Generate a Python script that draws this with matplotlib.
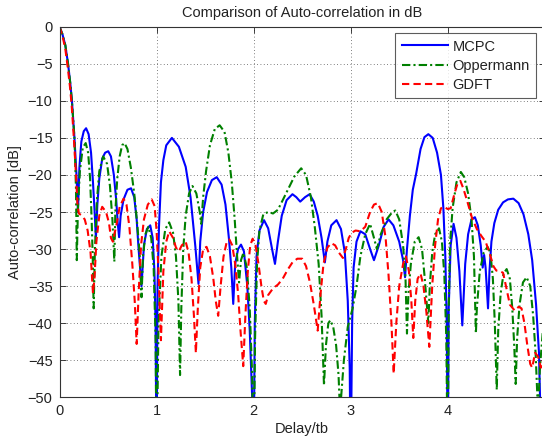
import matplotlib
matplotlib.use("Agg")
import matplotlib.pyplot as plt

plt.rcParams['font.family'] = ['Liberation Sans', 'DejaVu Sans']

# Normalised delay (in chip durations tb)
mcpc_x = [0.0, 0.03, 0.06, 0.088, 0.11, 0.128, 0.154, 0.175, 0.19,
          0.205, 0.225, 0.25, 0.274, 0.30, 0.325, 0.345, 0.362, 0.375,
          0.39, 0.41, 0.44, 0.47, 0.502, 0.53, 0.56, 0.585, 0.60, 0.614,
          0.63, 0.66, 0.70, 0.737, 0.77, 0.795, 0.815, 0.845,
          0.87, 0.90, 0.935, 0.96, 0.978, 0.99, 1.0,
          1.01, 1.025, 1.045, 1.07, 1.10, 1.158, 1.23, 1.30, 1.35, 1.40, 1.432,
          1.45, 1.48, 1.52, 1.57, 1.62, 1.67, 1.71, 1.745, 1.77, 1.79,
          1.81, 1.84, 1.87, 1.90, 1.935, 1.96, 1.985, 2.0,
          2.012, 2.03, 2.06, 2.107, 2.15, 2.19, 2.22,
          2.25, 2.29, 2.34, 2.40, 2.44, 2.48, 2.53, 2.577, 2.62, 2.66, 2.70, 2.734,
          2.76, 2.80, 2.854, 2.90, 2.94, 2.97, 2.99, 3.0,
          3.015, 3.03, 3.06, 3.10, 3.15, 3.20, 3.24, 3.29, 3.34, 3.39, 3.44, 3.50, 3.54, 3.56,
          3.58, 3.61, 3.64, 3.675, 3.72, 3.76, 3.80, 3.845, 3.89, 3.93, 3.955, 3.975, 3.99, 4.0,
          4.01, 4.03, 4.06, 4.09, 4.12, 4.15,
          4.18, 4.21, 4.245, 4.28, 4.31, 4.34, 4.36, 4.375, 4.39, 4.415,
          4.43, 4.45, 4.48, 4.52, 4.57, 4.62, 4.676, 4.73, 4.78, 4.83, 4.87, 4.91, 4.94, 4.96, 4.98]
mcpc_db = [0.0, -1.0, -2.5, -5.0, -7.5, -10.0, -15.0, -20.0, -25.0,
           -19.0, -15.5, -14.1, -13.7, -14.5, -17.0, -21.0, -25.0, -28.5,
           -24.0, -20.5, -17.8, -17.0, -16.8, -17.5, -20.0, -23.5, -26.5, -28.4,
           -25.5, -23.3, -22.0, -21.8, -23.0, -26.0, -30.0, -35.0,
           -29.5, -27.3, -26.8, -28.5, -33.0, -40.0, -60.0,
           -35.0, -27.0, -21.0, -18.0, -16.0, -15.0, -16.2, -18.9, -23.0, -29.7, -34.7,
           -29.0, -25.0, -22.3, -20.7, -20.3, -21.3, -24.0, -28.5, -32.5, -37.4,
           -32.0, -30.0, -29.4, -30.3, -35.0, -41.0, -50.0, -60.0,
           -40.0, -31.0, -27.5, -26.1, -27.2, -30.0, -32.0,
           -29.0, -25.5, -23.4, -22.6, -23.0, -23.6, -23.0, -22.6, -23.6, -25.5, -28.5, -31.8,
           -29.0, -26.8, -26.1, -27.3, -30.5, -37.0, -46.0, -60.0,
           -40.0, -32.5, -29.0, -27.6, -28.0, -30.0, -31.5, -29.5, -27.0, -26.0, -26.8, -29.0, -31.5, -33.8,
           -30.0, -25.5, -22.0, -19.8, -16.5, -14.9, -14.5, -15.0, -17.0, -20.0, -24.5, -31.0, -40.0, -60.0,
           -38.0, -29.5, -26.6, -28.5, -33.0, -40.3,
           -32.0, -28.0, -26.0, -25.7, -26.8, -29.5, -32.5, -30.8, -32.5, -38.0,
           -33.0, -29.0, -26.5, -24.7, -23.7, -23.3, -23.2, -23.8, -25.3, -28.0, -31.5, -37.5, -44.0, -55.0, -60.0]

opp_x = [0.0, 0.03, 0.06, 0.088, 0.11, 0.128, 0.154, 0.17, 0.178,
         0.19, 0.21, 0.24, 0.27, 0.295, 0.315, 0.33, 0.342, 0.352,
         0.365, 0.385, 0.41, 0.45, 0.49, 0.52, 0.545, 0.565,
         0.575, 0.595, 0.62, 0.645, 0.67, 0.70, 0.735, 0.77, 0.80, 0.825, 0.845,
         0.86, 0.885, 0.915, 0.945, 0.97, 0.99, 1.0,
         1.02, 1.05, 1.09, 1.13, 1.17, 1.20, 1.225, 1.242,
         1.255, 1.275, 1.30, 1.335, 1.37, 1.41, 1.445, 1.46, 1.48, 1.51, 1.55, 1.60, 1.65,
         1.70, 1.74, 1.775, 1.805, 1.83, 1.85,
         1.87, 1.895, 1.93, 1.96, 1.985, 2.0,
         2.015, 2.035, 2.06, 2.10, 2.15, 2.20, 2.25, 2.30, 2.36, 2.42, 2.49, 2.54, 2.59, 2.63, 2.67, 2.70, 2.725,
         2.745, 2.77, 2.79, 2.82, 2.85, 2.875, 2.89,
         2.93, 2.97, 3.02, 3.06, 3.10, 3.15, 3.20, 3.24, 3.27, 3.31, 3.37, 3.43, 3.46, 3.50, 3.54, 3.565, 3.58,
         3.595, 3.62, 3.66, 3.70, 3.735, 3.76, 3.785, 3.80, 3.815, 3.84, 3.87, 3.91, 3.94, 3.965, 3.985, 4.0,
         4.01, 4.025, 4.05, 4.09, 4.135, 4.17, 4.21, 4.245, 4.27, 4.29,
         4.30, 4.33, 4.37, 4.41, 4.44, 4.465, 4.485, 4.505,
         4.52, 4.545, 4.575, 4.607, 4.64, 4.665, 4.685, 4.70,
         4.715, 4.74, 4.775, 4.813, 4.85, 4.88, 4.905, 4.93, 4.95, 4.98]
opp_db = [0.0, -1.0, -2.5, -5.0, -7.5, -10.0, -15.0, -22.0, -31.5,
          -24.5, -19.5, -16.3, -15.7, -17.0, -20.5, -25.5, -31.0, -38.0,
          -30.0, -23.5, -19.5, -17.5, -18.5, -21.5, -26.0, -31.7,
          -25.0, -20.5, -17.5, -16.0, -15.7, -16.5, -19.0, -22.5, -26.5, -30.5, -36.5,
          -31.0, -28.0, -27.0, -28.5, -32.5, -42.0, -60.0,
          -40.0, -31.0, -27.3, -26.4, -27.8, -31.0, -37.0, -47.0,
          -38.0, -30.0, -25.5, -22.5, -21.5, -22.5, -25.0, -26.6, -23.0, -19.5, -16.0, -13.8, -13.3,
          -14.2, -17.0, -21.0, -26.0, -31.0, -34.5,
          -31.5, -30.5, -32.5, -38.0, -47.0, -60.0,
          -42.0, -32.0, -27.5, -25.3, -25.0, -25.2, -24.7, -23.4, -21.8, -20.2, -19.1, -20.0, -23.0, -27.0, -32.0, -39.0, -48.4,
          -43.0, -40.0, -39.6, -40.5, -43.0, -47.0, -52.0,
          -45.0, -40.5, -38.0, -35.0, -31.0, -28.0, -26.6, -28.5, -30.0, -28.0, -26.0, -25.0, -24.8, -26.0, -29.5, -34.0, -41.4,
          -36.0, -32.0, -29.0, -28.4, -30.0, -33.5, -37.5, -40.0, -35.0, -30.5, -28.0, -27.2, -29.0, -33.5, -42.0, -60.0,
          -38.0, -29.0, -24.5, -21.0, -19.6, -20.3, -22.5, -26.0, -31.0, -41.4,
          -38.0, -33.0, -30.5, -29.7, -30.5, -34.0, -40.0, -49.0,
          -41.0, -36.0, -33.3, -32.7, -34.0, -38.0, -43.0, -48.2,
          -42.0, -37.5, -34.5, -33.8, -35.0, -39.0, -44.0, -52.0, -46.0, -41.0]

gdft_x = [0.0, 0.03, 0.06, 0.085, 0.107, 0.125, 0.15, 0.17, 0.185,
          0.20, 0.23, 0.26, 0.29, 0.32, 0.345, 0.36, 0.38, 0.41, 0.44, 0.48, 0.51, 0.53,
          0.55, 0.59, 0.62, 0.66, 0.69, 0.72, 0.75, 0.775, 0.795,
          0.815, 0.84, 0.87, 0.91, 0.95, 0.98, 1.0, 1.02, 1.045,
          1.07, 1.10, 1.13, 1.17, 1.20, 1.23, 1.26, 1.30, 1.33, 1.36, 1.385, 1.405,
          1.425, 1.45, 1.48, 1.515, 1.55, 1.585, 1.61, 1.635,
          1.66, 1.69, 1.72, 1.75, 1.78, 1.81, 1.84, 1.865, 1.893,
          1.915, 1.94, 1.965, 1.99, 2.02, 2.05, 2.08, 2.105, 2.125,
          2.15, 2.20, 2.25, 2.30, 2.35, 2.40, 2.45, 2.50, 2.54, 2.58, 2.62, 2.66,
          2.69, 2.72, 2.76, 2.80, 2.84, 2.88, 2.92, 2.95, 2.98, 3.01, 3.05, 3.10, 3.15, 3.20, 3.24, 3.28,
          3.32, 3.36, 3.39, 3.42, 3.443, 3.47, 3.50, 3.54, 3.57, 3.60, 3.625, 3.645,
          3.665, 3.69, 3.72, 3.75, 3.78, 3.81, 3.84, 3.87, 3.90, 3.93, 3.96, 4.0, 4.03,
          4.07, 4.10, 4.13, 4.16, 4.20, 4.25, 4.30, 4.35, 4.39, 4.43, 4.47, 4.50, 4.54, 4.57,
          4.60, 4.64, 4.69, 4.73, 4.76, 4.79, 4.82, 4.85, 4.87, 4.90, 4.93, 4.96, 4.98]
gdft_db = [0.0, -1.2, -3.0, -5.5, -8.0, -10.5, -15.5, -20.0, -24.0,
           -25.2, -25.5, -26.0, -27.5, -30.5, -36.0, -34.0, -29.0, -25.5, -24.3, -25.0, -26.5, -28.5,
           -29.0, -26.5, -24.3, -23.2, -24.0, -27.0, -32.0, -37.0, -42.8,
           -36.0, -29.5, -26.0, -24.0, -23.3, -24.2, -27.5, -33.0, -42.3,
           -33.0, -29.0, -27.6, -28.5, -29.8, -30.3, -29.5, -29.0, -30.5, -34.0, -39.0, -44.0,
           -38.0, -32.5, -30.0, -29.7, -31.0, -34.0, -37.0, -39.0,
           -35.0, -31.0, -29.2, -28.7, -29.5, -32.0, -36.0, -41.0, -45.8,
           -39.0, -33.0, -29.5, -28.6, -29.5, -32.0, -35.0, -37.0, -37.4,
           -36.2, -35.3, -34.8, -34.0, -32.8, -31.8, -31.3, -31.3, -32.3, -34.5, -37.5, -41.0,
           -36.0, -32.0, -29.8, -29.2, -29.5, -30.5, -31.2, -30.0, -28.5, -27.8, -27.5, -27.6, -27.0, -25.0, -24.0, -23.8,
           -25.0, -28.5, -33.5, -40.0, -46.8, -40.0, -35.0, -32.0, -31.0, -33.0, -37.0, -42.0,
           -37.0, -34.0, -33.3, -35.0, -38.5, -43.2, -35.0, -29.5, -26.0, -24.5, -24.3, -24.6, -24.5,
           -22.5, -21.2, -20.8, -21.8, -23.5, -25.8, -27.3, -28.3, -29.0, -30.5, -32.3, -32.9, -33.0, -33.2,
           -35.0, -37.5, -38.3, -37.8, -38.0, -40.0, -43.0, -45.5, -46.0, -44.0, -44.5, -46.0, -45.0]

series_names = ['MCPC', 'Oppermann', 'GDFT']
x_ticks = [0, 1, 2, 3, 4]
y_ticks = [0, -5, -10, -15, -20, -25, -30, -35, -40, -45, -50]

W, H = 542, 438
fig = plt.figure(figsize=(W / 100, H / 100), dpi=100)
ax = fig.add_axes([59.5 / W, (H - 397.3) / H, (544.8 - 59.5) / W, (397.3 - 26.7) / H])

ax.plot(mcpc_x, mcpc_db, color=(0, 0, 1), lw=1.5, label=series_names[0])
ax.plot(opp_x, opp_db, color=(0, 0.5, 0), lw=1.5, dashes=(4, 1.5, 1, 1.5), label=series_names[1])
ax.plot(gdft_x, gdft_db, color=(1, 0, 0), lw=1.5, dashes=(3.5, 2), label=series_names[2])

ax.set_xlim(0, 5)
ax.set_ylim(-50, 0)
ax.set_xticks(x_ticks)
ax.set_yticks(y_ticks)
ax.tick_params(direction='in', length=4, width=0.6, top=True, right=True,
               labelsize=10.5, colors='#222222', pad=5)
ax.grid(True, linestyle=(0, (1, 3)), color='#555555', linewidth=0.6)
for s in ax.spines.values():
    s.set_linewidth(0.8)
    s.set_color('#333333')

ax.set_title('Comparison of Auto-correlation in dB', fontsize=10.5, pad=7, color='#222222')
ax.set_xlabel('Delay/tb', fontsize=10.5, labelpad=3, color='#222222')
ax.set_ylabel('Auto-correlation [dB]', fontsize=10.5, labelpad=4, color='#222222')

leg = ax.legend(loc='upper left', bbox_to_anchor=(395 / W, 1 - 33 / H),
                bbox_transform=fig.transFigure, fontsize=10.5, frameon=True,
                fancybox=False, handlelength=3.2, handletextpad=0.3,
                labelspacing=0.35, borderpad=0.45, borderaxespad=0)
leg.get_frame().set_edgecolor('#333333')
leg.get_frame().set_linewidth(0.8)
for t in leg.get_texts():
    t.set_color('#222222')

fig.savefig('out.png', dpi=100)
